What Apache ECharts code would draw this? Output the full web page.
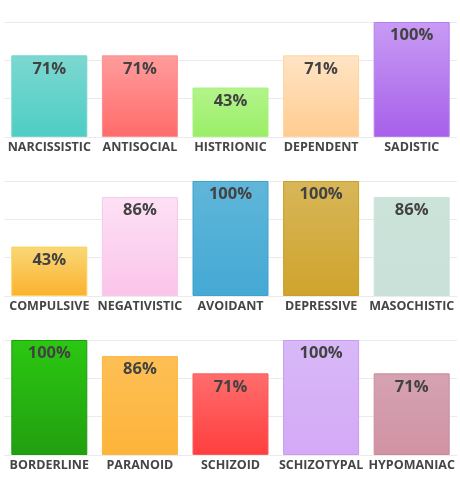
<!DOCTYPE html>
<html>
<head>
<meta charset="utf-8">
<script src="https://cdn.jsdelivr.net/npm/echarts@6/dist/echarts.min.js"></script>
<style>
html,body{margin:0;padding:0;background:#fff;}
#chart{width:460px;height:500px;}
</style>
</head>
<body>
<div id="chart"></div>
<script>
// ---- data ----
var categories1 = ['NARCISSISTIC', 'ANTISOCIAL', 'HISTRIONIC', 'DEPENDENT', 'SADISTIC'];
var values1 = [71, 71, 43, 71, 100];
var categories2 = ['COMPULSIVE', 'NEGATIVISTIC', 'AVOIDANT', 'DEPRESSIVE', 'MASOCHISTIC'];
var values2 = [43, 86, 100, 100, 86];
var categories3 = ['BORDERLINE', 'PARANOID', 'SCHIZOID', 'SCHIZOTYPAL', 'HYPOMANIAC'];
var values3 = [100, 86, 71, 100, 71];

// ---- styles (top colour, bottom colour, border colour) ----
var palette1 = [
  ['#7cd8d0', '#4ecdc4', '#6fd6cd'],
  ['#ff9c9c', '#ff6b6b', '#ff8e8e'],
  ['#b3f48b', '#9aee67', '#a8f27c'],
  ['#ffe4c5', '#ffcc8f', '#ffd49f'],
  ['#c89bf4', '#a760ea', '#b47cee']
];
var palette2 = [
  ['#f9d877', '#fbb12e', '#fad35c'],
  ['#fde1f5', '#fbc4ea', '#f9c8ea'],
  ['#60b6d9', '#44a9d4', '#3ea2cf'],
  ['#d8b658', '#cfa42d', '#cc9f22'],
  ['#cce3da', '#c9e1d8', '#cce3da']
];
var palette3 = [
  ['#2bc812', '#229f10', '#1f9a12'],
  ['#fdbf55', '#fdb43a', '#fdb53f'],
  ['#ff6d6d', '#ff3e3e', '#ff5a5a'],
  ['#d8b8f7', '#d4a9f6', '#c89cf3'],
  ['#d6a2b2', '#d093a4', '#c98a9c']
];

var rows = [
  {cats: categories1, vals: values1, pal: palette1, top: 22},
  {cats: categories2, vals: values2, pal: palette2, top: 181},
  {cats: categories3, vals: values3, pal: palette3, top: 340}
];

var grids = [], xAxes = [], yAxes = [], series = [];
rows.forEach(function (r, i) {
  grids.push({left: 4, right: 3, top: r.top, height: 115, containLabel: false});
  xAxes.push({
    type: 'category', gridIndex: i, data: r.cats,
    axisLine: {show: false}, axisTick: {show: false},
    axisLabel: {
      interval: 0, margin: 4, color: '#454545',
      fontFamily: 'Open Sans', fontWeight: 'bold', fontSize: 12.5
    }
  });
  yAxes.push({
    type: 'value', gridIndex: i, min: 0, max: 100, interval: 100 / 3,
    axisLabel: {show: false}, axisLine: {show: false}, axisTick: {show: false},
    splitLine: {lineStyle: {color: '#ebebeb', width: 1}}
  });
  series.push({
    type: 'bar', xAxisIndex: i, yAxisIndex: i, barWidth: 76,
    data: r.vals.map(function (v, j) {
      var p = r.pal[j];
      return {
        value: v,
        itemStyle: {
          color: new echarts.graphic.LinearGradient(0, 0, 0, 1, [
            {offset: 0, color: p[0]}, {offset: 1, color: p[1]}
          ]),
          borderColor: p[2], borderWidth: 1
        }
      };
    }),
    label: {
      show: true, position: 'insideTop', distance: 5,
      formatter: '{c}%', color: '#424242',
      fontFamily: 'Open Sans', fontWeight: 'bold', fontSize: 16.5
    },
    animation: false
  });
});

var chart = echarts.init(document.getElementById('chart'), null, {renderer: 'canvas'});
chart.setOption({
  animation: false,
  grid: grids, xAxis: xAxes, yAxis: yAxes, series: series
});
</script>
</body>
</html>
